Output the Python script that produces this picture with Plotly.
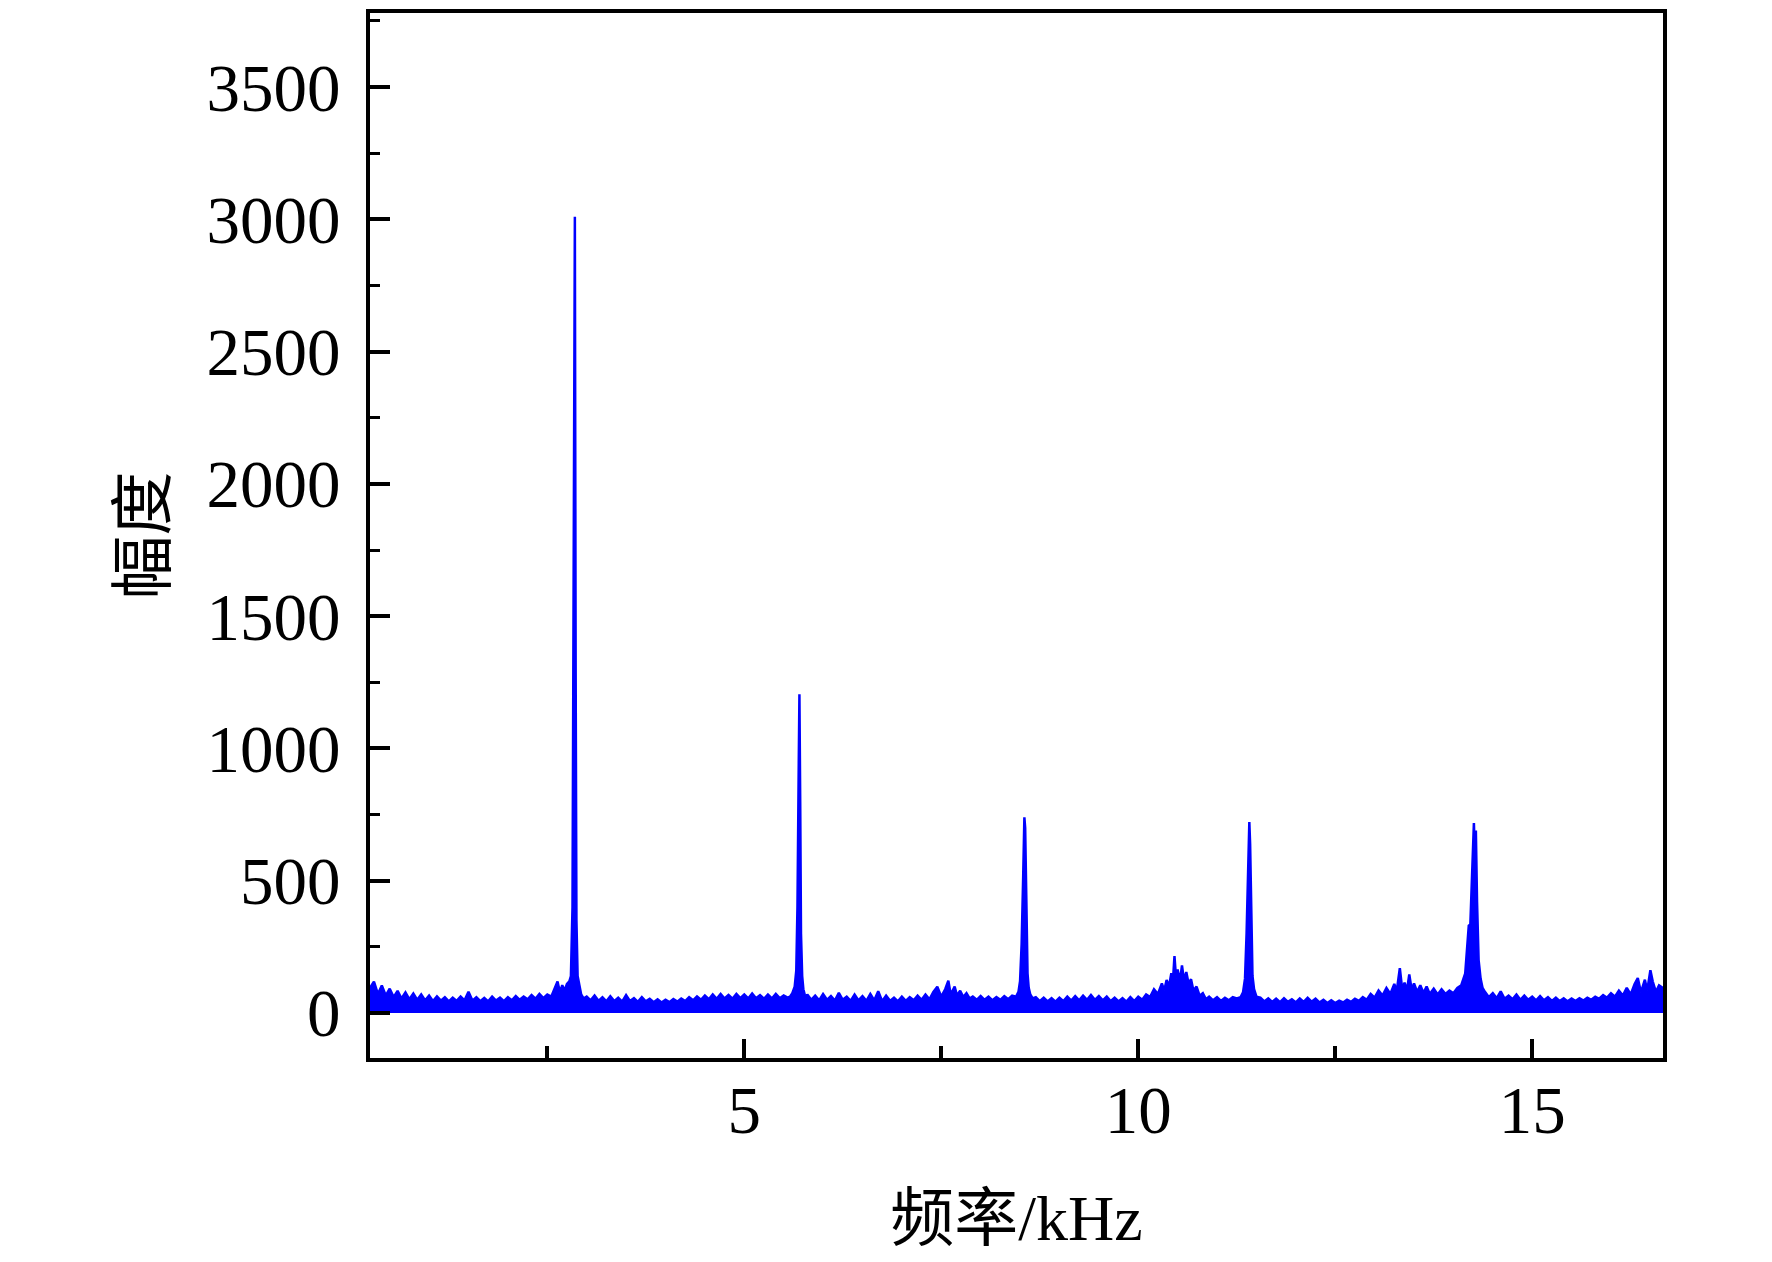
import plotly.graph_objects as go

freq_khz = [
    0.25, 0.30, 0.35, 0.40, 0.45, 0.50, 0.55, 0.60, 0.65, 0.70,
    0.75, 0.80, 0.85, 0.90, 0.95, 1.00, 1.05, 1.10, 1.15, 1.20,
    1.25, 1.30, 1.35, 1.40, 1.45, 1.50, 1.55, 1.60, 1.65, 1.70,
    1.75, 1.80, 1.85, 1.90, 1.95, 2.00, 2.05, 2.10, 2.15, 2.20,
    2.25, 2.30, 2.35, 2.40, 2.45, 2.50, 2.55, 2.60, 2.63, 2.66,
    2.69, 2.72, 2.75, 2.78, 2.80, 2.82, 2.835, 2.85, 2.86, 2.87,
    2.885, 2.90, 2.93, 2.96, 3.00, 3.05, 3.10, 3.15, 3.20, 3.25,
    3.30, 3.35, 3.40, 3.45, 3.50, 3.55, 3.60, 3.65, 3.70, 3.75,
    3.80, 3.85, 3.90, 3.95, 4.00, 4.05, 4.10, 4.15, 4.20, 4.25,
    4.30, 4.35, 4.40, 4.45, 4.50, 4.55, 4.60, 4.65, 4.70, 4.75,
    4.80, 4.85, 4.90, 4.95, 5.00, 5.05, 5.10, 5.15, 5.20, 5.25,
    5.30, 5.35, 5.40, 5.45, 5.50, 5.55, 5.58, 5.61, 5.64, 5.66,
    5.675, 5.69, 5.70, 5.71, 5.72, 5.735, 5.75, 5.78, 5.80, 5.85,
    5.90, 5.95, 6.00, 6.05, 6.10, 6.15, 6.20, 6.25, 6.30, 6.35,
    6.40, 6.45, 6.50, 6.55, 6.60, 6.65, 6.70, 6.75, 6.80, 6.85,
    6.90, 6.95, 7.00, 7.05, 7.10, 7.15, 7.20, 7.25, 7.30, 7.35,
    7.40, 7.45, 7.50, 7.55, 7.59, 7.62, 7.67, 7.70, 7.74, 7.78,
    7.82, 7.86, 7.90, 7.95, 8.00, 8.05, 8.10, 8.15, 8.20, 8.25,
    8.30, 8.35, 8.40, 8.45, 8.48, 8.50, 8.52, 8.54, 8.555, 8.565,
    8.58, 8.595, 8.61, 8.63, 8.66, 8.70, 8.75, 8.80, 8.85, 8.90,
    8.95, 9.00, 9.05, 9.10, 9.15, 9.20, 9.25, 9.30, 9.35, 9.40,
    9.45, 9.50, 9.55, 9.60, 9.65, 9.70, 9.75, 9.80, 9.85, 9.90,
    9.95, 10.00, 10.05, 10.10, 10.15, 10.20, 10.25, 10.30, 10.33, 10.36,
    10.39, 10.42, 10.44, 10.46, 10.48, 10.50, 10.53, 10.555, 10.58, 10.61,
    10.64, 10.67, 10.70, 10.74, 10.78, 10.82, 10.86, 10.90, 10.95, 11.00,
    11.05, 11.10, 11.15, 11.20, 11.25, 11.30, 11.33, 11.355, 11.375, 11.395,
    11.41, 11.42, 11.435, 11.45, 11.47, 11.50, 11.55, 11.60, 11.65, 11.70,
    11.75, 11.80, 11.85, 11.90, 11.95, 12.00, 12.05, 12.10, 12.15, 12.20,
    12.25, 12.30, 12.35, 12.40, 12.45, 12.50, 12.55, 12.60, 12.65, 12.70,
    12.75, 12.80, 12.85, 12.90, 12.95, 13.00, 13.05, 13.10, 13.15, 13.20,
    13.25, 13.28, 13.32, 13.35, 13.38, 13.41, 13.44, 13.47, 13.50, 13.54,
    13.58, 13.62, 13.66, 13.70, 13.75, 13.80, 13.85, 13.90, 13.95, 14.00,
    14.05, 14.10, 14.15, 14.18, 14.195, 14.215, 14.24, 14.26, 14.272, 14.285,
    14.30, 14.32, 14.345, 14.37, 14.40, 14.45, 14.50, 14.55, 14.60, 14.65,
    14.70, 14.75, 14.80, 14.85, 14.90, 14.95, 15.00, 15.05, 15.10, 15.15,
    15.20, 15.25, 15.30, 15.35, 15.40, 15.45, 15.50, 15.55, 15.60, 15.65,
    15.70, 15.75, 15.80, 15.85, 15.90, 15.95, 16.00, 16.05, 16.10, 16.15,
    16.20, 16.25, 16.30, 16.34, 16.38, 16.43, 16.46, 16.50, 16.53, 16.57,
    16.61, 16.66,
]
amplitud = [
    95, 119, 72, 104, 66, 92, 60, 84, 55, 78,
    52, 74, 50, 70, 48, 66, 45, 63, 47, 60,
    44, 58, 46, 62, 48, 80, 47, 60, 45, 57,
    44, 62, 47, 58, 45, 60, 48, 64, 50, 62,
    52, 68, 54, 72, 56, 70, 62, 95, 119, 78,
    105, 85, 110, 120, 140, 400, 1400, 3010, 1300, 350,
    140, 115, 70, 55, 62, 48, 66, 46, 60, 44,
    63, 45, 58, 43, 68, 45, 56, 42, 60, 44,
    54, 41, 52, 40, 50, 41, 53, 43, 55, 45,
    60, 48, 63, 50, 66, 52, 70, 54, 72, 55,
    68, 54, 72, 56, 70, 55, 74, 56, 68, 54,
    70, 55, 72, 56, 66, 58, 62, 75, 100, 160,
    400, 900, 1205, 800, 300, 140, 90, 55, 70, 50,
    66, 48, 72, 50, 64, 47, 76, 50, 62, 46,
    70, 48, 64, 46, 72, 48, 82, 45, 66, 46,
    58, 44, 62, 46, 60, 48, 66, 50, 70, 52,
    80, 99, 62, 90, 122, 70, 100, 66, 84, 60,
    75, 55, 62, 50, 64, 50, 62, 48, 60, 50,
    64, 52, 66, 62, 80, 120, 260, 520, 740, 700,
    380, 150, 95, 70, 55, 60, 45, 58, 44, 56,
    43, 58, 45, 62, 47, 64, 48, 66, 50, 68,
    50, 64, 48, 62, 45, 58, 44, 56, 43, 60,
    45, 62, 50, 70, 60, 90, 72, 112, 85, 125,
    100, 150, 120, 215, 130, 165, 120, 180, 125, 155,
    110, 128, 85, 100, 65, 75, 52, 62, 48, 60,
    46, 58, 48, 60, 55, 60, 78, 130, 300, 560,
    722, 640, 300, 140, 90, 62, 58, 44, 55, 42,
    54, 41, 56, 42, 52, 40, 55, 42, 58, 43,
    54, 40, 50, 38, 48, 38, 47, 40, 50, 42,
    54, 46, 60, 50, 72, 58, 85, 66, 95, 72,
    110, 82, 170, 90, 115, 85, 146, 88, 112, 80,
    105, 76, 100, 72, 92, 70, 90, 72, 85, 75,
    95, 105, 150, 250, 330, 335, 560, 718, 600, 690,
    420, 200, 130, 95, 80, 60, 75, 56, 82, 54,
    66, 52, 70, 50, 66, 50, 62, 48, 64, 48,
    60, 46, 58, 45, 56, 44, 55, 45, 56, 47,
    58, 50, 62, 54, 68, 58, 75, 62, 85, 66,
    95, 70, 110, 132, 78, 126, 85, 162, 119, 80,
    105, 95,
]

# ticks de los ejes
ticks_x = [5, 10, 15]
ticks_x_menores = [2.5, 7.5, 12.5]
ticks_y = [0, 500, 1000, 1500, 2000, 2500, 3000, 3500]

fuente = "Liberation Serif, Noto Sans CJK SC"

figura = go.Figure(go.Scatter(
    x=freq_khz,
    y=amplitud,
    mode="lines",
    line=dict(color="#0000ff", width=2.5),
    fill="tozeroy",
    fillcolor="#0000ff",
))

figura.update_layout(
    width=1756,
    height=1246,
    margin=dict(l=362, r=101, t=5, b=196),
    paper_bgcolor="white",
    plot_bgcolor="white",
    showlegend=False,
    font=dict(family=fuente, size=66, color="black"),
)

figura.update_xaxes(
    range=[0.25, 16.66],
    tickvals=ticks_x,
    ticks="inside", ticklen=19, tickwidth=4, tickcolor="black",
    minor=dict(tickvals=ticks_x_menores, ticks="inside", ticklen=12, tickwidth=4, tickcolor="black"),
    showline=True, linewidth=4, linecolor="black", mirror=True,
    showgrid=False, zeroline=False,
    tickfont=dict(family=fuente, size=67),
    ticklabelstandoff=-9,
    title=dict(text="频率/kHz", font=dict(family=fuente, size=64), standoff=72),
    automargin=False,
)
figura.update_yaxes(
    range=[-170, 3780],
    tickvals=ticks_y,
    ticks="inside", ticklen=20, tickwidth=4, tickcolor="black",
    minor=dict(dtick=250, ticks="inside", ticklen=10, tickwidth=3, tickcolor="black"),
    showline=True, linewidth=4, linecolor="black", mirror=True,
    showgrid=False, zeroline=False,
    tickfont=dict(family=fuente, size=67),
    ticklabelstandoff=12,
    title=dict(text="幅度", font=dict(family=fuente, size=64), standoff=21),
    automargin=False,
)

figura.write_html("out.html")
